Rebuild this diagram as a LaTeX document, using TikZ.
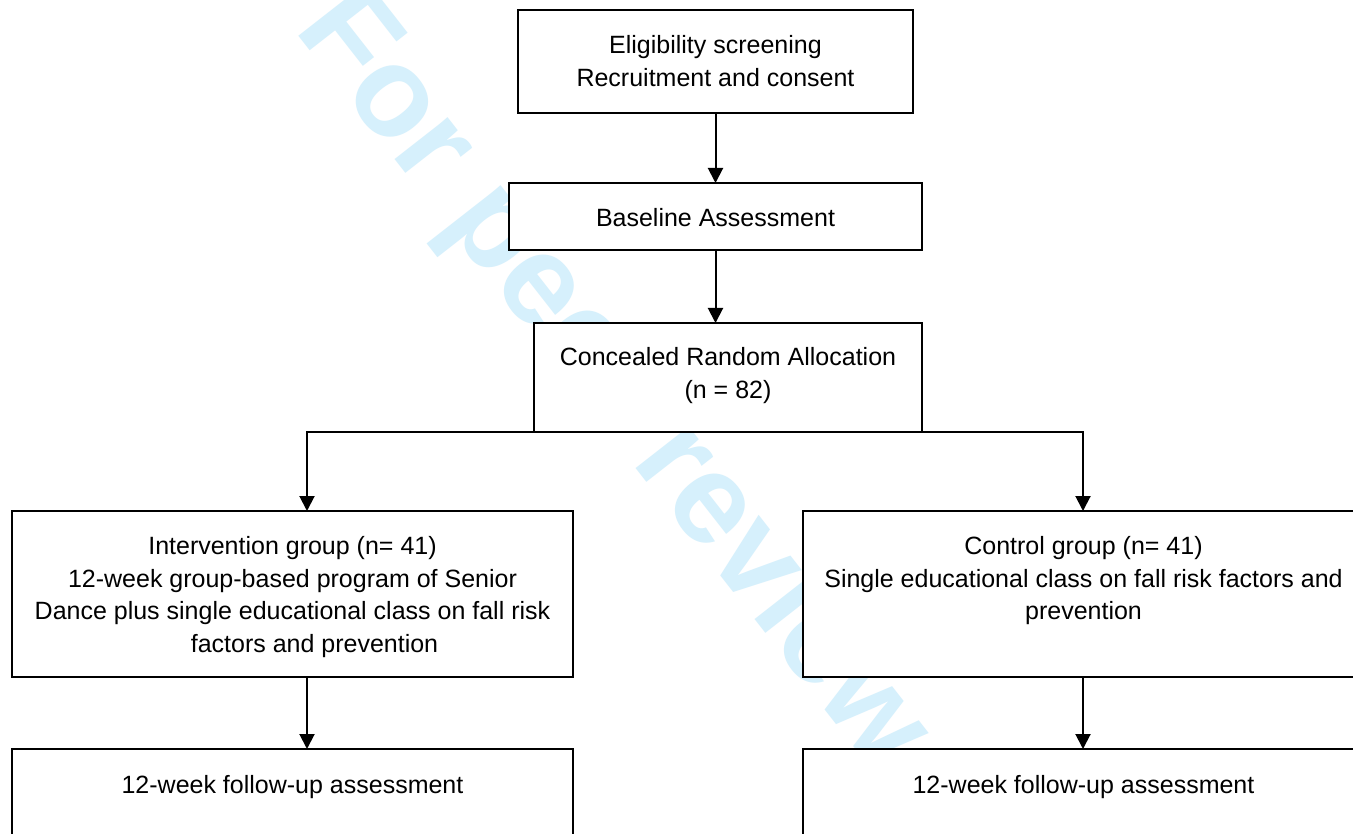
\documentclass[tikz,border=0pt]{standalone}
\usepackage{fontspec}
\setmainfont{Liberation Sans}
\usetikzlibrary{arrows.meta}
\definecolor{wmblue}{RGB}{214,240,252}
\begin{document}
\begin{tikzpicture}[x=1pt,y=-1pt,
  flowbox/.style={draw=black, line width=1.3pt, fill=white, inner sep=0pt, outer sep=0pt, anchor=north west},
  boxtext/.style={anchor=north, inner sep=0pt, align=center, font=\fontsize{25}{32.7}\selectfont},
  wmark/.style={text=wmblue, inner sep=0pt, rotate=-52, font=\fontsize{128}{128}\selectfont\bfseries},
  arr/.style={line width=2pt, -{Triangle[width=15pt,length=15pt]}},
  dblarr/.style={line width=2pt, {Triangle[width=15pt,length=15pt]}-{Triangle[width=15pt,length=15pt]}}]
\useasboundingbox (0,0) rectangle (1353,834);
\clip (0,0) rectangle (1353,834);
\fill[white] (0,0) rectangle (1353,834);
% watermark
\node[wmark] (wm) at (611,382) {For peer review};
% boxes
\node[flowbox, minimum width=395pt, minimum height=103pt] (elig) at (518,10) {};
\node[flowbox, minimum width=413pt, minimum height=67pt] (base) at (509,183) {};
\node[flowbox, minimum width=388pt, minimum height=108.5pt] (conc) at (534,323) {};
\node[flowbox, minimum width=561pt, minimum height=166pt] (interv) at (12,511) {};
\node[flowbox, minimum width=561pt, minimum height=166pt] (ctrl) at (803,511) {};
\node[flowbox, minimum width=561pt, minimum height=140pt] (fuL) at (12,749) {};
\node[flowbox, minimum width=561pt, minimum height=140pt] (fuR) at (803,749) {};
% texts
\node[boxtext] (eligT) at ([yshift=-25pt]elig.north) {Eligibility screening\\Recruitment and consent};
\node[boxtext] (baseT) at ([yshift=-25pt]base.north) {Baseline Assessment};
\node[boxtext] (concT) at ([yshift=-24pt]conc.north) {Concealed Random Allocation\\(n = 82)};
\node[boxtext] (intervT) at ([yshift=-25pt]interv.north) {Intervention group (n= 41)\\12-week group-based program of Senior\\Dance plus single educational class on fall risk\\\hspace*{44pt}factors and prevention};
\node[boxtext] (ctrlT) at ([yshift=-25pt]ctrl.north) {Control group (n= 41)\\Single educational class on fall risk factors and\\prevention};
\node[boxtext] (fuLT) at ([yshift=-26pt]fuL.north) {12-week follow-up assessment};
\node[boxtext] (fuRT) at ([yshift=-26pt]fuR.north) {12-week follow-up assessment};
% connectors
\coordinate (lx) at (307,0);
\coordinate (rx) at (1083,0);
\draw[arr] (elig.south) -- (base.north);
\draw[arr] (base.south) -- (base.south |- conc.north);
\draw[dblarr] (interv.north -| lx) |- (conc.south) -| (ctrl.north -| rx);
\draw[arr] (interv.south -| lx) -- (fuL.north -| lx);
\draw[arr] (ctrl.south -| rx) -- (fuR.north -| rx);
\end{tikzpicture}
\end{document}
